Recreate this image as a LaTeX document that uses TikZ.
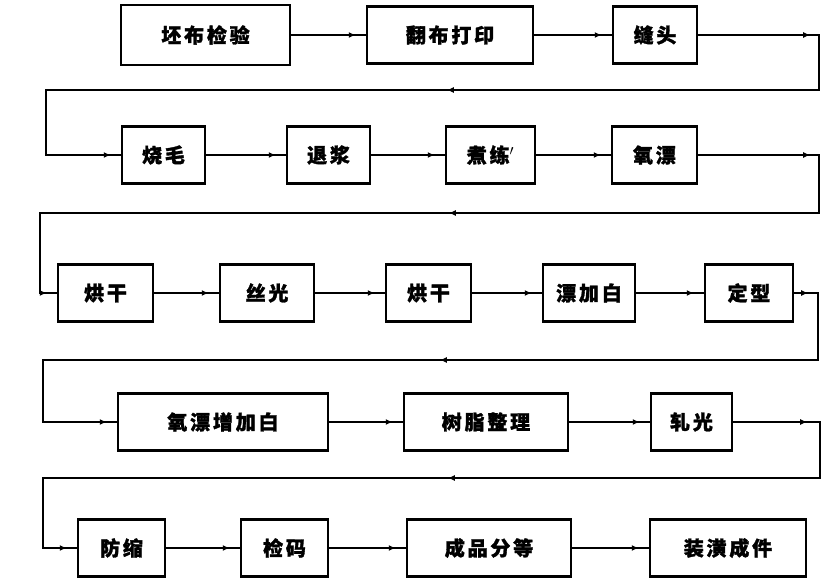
\documentclass[tikz,border=0pt]{standalone}
\usepackage{fontspec}
\setmainfont{Noto Sans CJK SC}[LetterSpace=14, BoldFeatures={FakeBold=1.5}]
\usetikzlibrary{arrows.meta, decorations.markings}
\tikzset{
  flowtip/.tip={Latex[length=7pt,width=6pt]},
  stage/.style={rectangle, draw=black, line width=2.4pt, minimum height=57pt, inner sep=0pt, font=\fontsize{20}{20}\selectfont\bfseries},
  link/.style={line width=1.7pt, postaction={decorate}, decoration={markings, mark=at position -10pt with {\arrow{flowtip}}}},
  back/.style 2 args={line width=1.7pt, postaction={decorate}, decoration={markings,
      mark=at position #1 with {\arrow{flowtip}},
      mark=at position #2 with {\arrow{flowtip}},
      mark=at position -10pt with {\arrow{flowtip}}}}
}
\begin{document}
\begin{tikzpicture}[x=1pt, y=-1pt]
  \useasboundingbox (0,0) rectangle (822,578);
  % first row
  \node[stage, minimum width=169pt, minimum height=60pt] (pibu) at (205.5,35) {坯布检验};
  \node[stage, minimum width=166pt] (fanbu) at (450,35) {翻布打印};
  \node[stage, minimum width=84pt] (fengtou) at (655,35) {缝头};
  % second row
  \node[stage, minimum width=83pt] (shaomao) at (163.5,155) {烧毛};
  \node[stage, minimum width=83pt] (tuijiang) at (328.5,155) {退浆};
  \node[stage, minimum width=89pt] (zhulian) at (490.5,155) {煮练$'$};
  \node[stage, minimum width=85pt] (yangpiao) at (654.5,155) {氧漂};
  % third row
  \node[stage, minimum width=95pt] (honggan) at (105.5,293) {烘干};
  \node[stage, minimum width=94pt] (siguang) at (267,293) {丝光};
  \node[stage, minimum width=85pt] (hongganb) at (428.5,293) {烘干};
  \node[stage, minimum width=92pt] (piaojia) at (589,293) {漂加白};
  \node[stage, minimum width=88pt] (dingxing) at (749,293) {定型};
  % fourth row
  \node[stage, minimum width=210pt] (yangzeng) at (223,422) {氧漂增加白};
  \node[stage, minimum width=164pt] (shuzhi) at (486,422) {树脂整理};
  \node[stage, minimum width=81pt] (yaguang) at (691.5,422) {轧光};
  % last row
  \node[stage, minimum width=87pt] (fangsuo) at (121.5,548) {防缩};
  \node[stage, minimum width=87pt] (jianma) at (284.5,548) {检码};
  \node[stage, minimum width=164pt] (fendeng) at (489,548) {成品分等};
  \node[stage, minimum width=156pt] (zhuang) at (728,548) {装潢成件};

  % corners of the return lines
  \coordinate (ra) at (819,90);  \coordinate (la) at (46,90);
  \coordinate (rb) at (819,213); \coordinate (lb) at (40,213);
  \coordinate (rc) at (818,360); \coordinate (lc) at (43,360);
  \coordinate (rd) at (820,478); \coordinate (ld) at (43,478);

  \draw[link] (pibu) -- (fanbu);
  \draw[link] (fanbu) -- (fengtou);
  \draw[back={112pt}{548pt}] (fengtou.east) -| (ra) -- (la) |- (shaomao.west);

  \draw[link] (shaomao) -- (tuijiang);
  \draw[link] (tuijiang) -- (zhulian);
  \draw[link] (zhulian) -- (yangpiao);
  \draw[back={112pt}{549pt}] (yangpiao.east) -| (rb) -- (lb) |- (honggan.west);

  \draw[link] (honggan) -- (siguang);
  \draw[link] (siguang) -- (hongganb);
  \draw[link] (hongganb) -- (piaojia);
  \draw[link] (piaojia) -- (dingxing);
  \draw[back={14pt}{469pt}] (dingxing.east) -| (rc) -- (lc) |- (yangzeng.west);

  \draw[link] (yangzeng) -- (shuzhi);
  \draw[link] (shuzhi) -- (yaguang);
  \draw[back={74pt}{515pt}] (yaguang.east) -| (rd) -- (ld) |- (fangsuo.west);

  \draw[link] (fangsuo) -- (jianma);
  \draw[link] (jianma) -- (fendeng);
  \draw[link] (fendeng) -- (zhuang);
\end{tikzpicture}
\end{document}
